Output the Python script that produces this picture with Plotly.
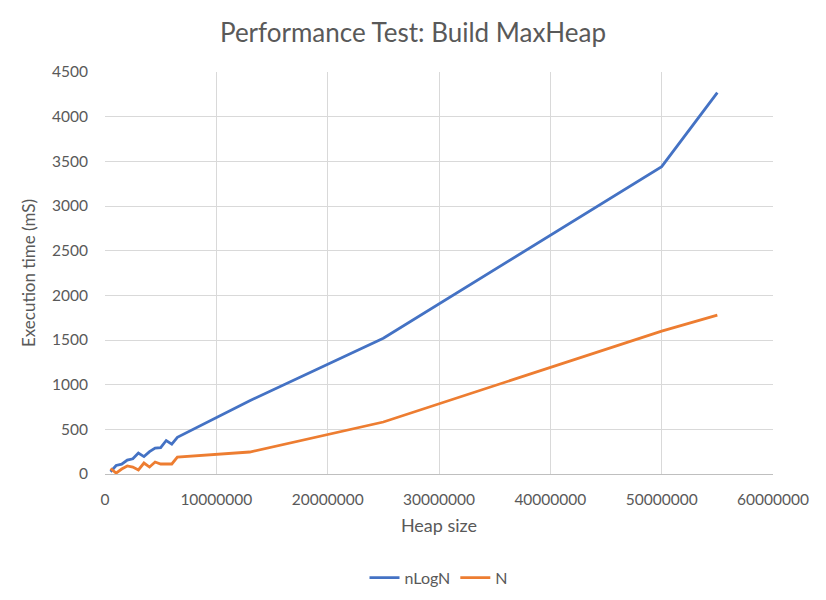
import plotly.graph_objects as go

heap_size = [500000, 1000000, 1500000, 2000000, 2500000, 3000000, 3500000,
             4000000, 4500000, 5000000, 5500000, 6000000, 6500000,
             13000000, 25000000, 50000000, 55000000]
nlogn_ms = [25, 95, 110, 155, 170, 235, 195, 250, 290, 295, 375, 335, 410,
            820, 1520, 3440, 4270]
n_ms = [62, 10, 56, 90, 78, 45, 123, 78, 134, 112, 112, 112, 190,
        246, 582, 1600, 1779]

x_ticks = [0, 10000000, 20000000, 30000000, 40000000, 50000000, 60000000]
y_ticks = [0, 500, 1000, 1500, 2000, 2500, 3000, 3500, 4000, 4500]

FONT = "Lato"
GREY = "#595959"

fig = go.Figure()
fig.add_trace(go.Scatter(x=heap_size, y=nlogn_ms, mode="lines", name="nLogN",
                         line=dict(color="#4472C4", width=2.8)))
fig.add_trace(go.Scatter(x=heap_size, y=n_ms, mode="lines", name="N",
                         line=dict(color="#ED7D31", width=2.8)))

fig.update_layout(
    width=826, height=600,
    margin=dict(l=105, r=53, t=72, b=126, autoexpand=False),
    paper_bgcolor="white", plot_bgcolor="white",
    font=dict(family=FONT, color=GREY, size=15),
    title=dict(text="Performance Test: Build MaxHeap", x=0.5, xanchor="center",
               y=0.945, yanchor="middle", font=dict(size=26, color=GREY, family=FONT)),
    showlegend=True,
    legend=dict(orientation="h", x=0.5, xanchor="center",
                yref="container", y=0.037, yanchor="middle",
                font=dict(size=16, color=GREY)),
    xaxis=dict(range=[0, 60000000], tickvals=x_ticks,
               ticktext=[str(v) for v in x_ticks],
               showgrid=True, gridcolor="#d9d9d9", gridwidth=1,
               zeroline=False, showline=True, linecolor="#bfbfbf", linewidth=1,
               mirror=False, ticks="", ticklabelstandoff=11, automargin=False,
               tickfont=dict(size=15.5),
               title=dict(text="Heap size", font=dict(size=18, color=GREY), standoff=12)),
    yaxis=dict(range=[0, 4500], tickvals=y_ticks,
               showgrid=True, gridcolor="#d9d9d9", gridwidth=1,
               zeroline=False, showline=False, ticks="", ticklabelstandoff=16,
               automargin=False, tickfont=dict(size=15.5),
               title=dict(text="Execution time (mS)", font=dict(size=17, color=GREY), standoff=12)),
)

fig.write_html("out.html")
